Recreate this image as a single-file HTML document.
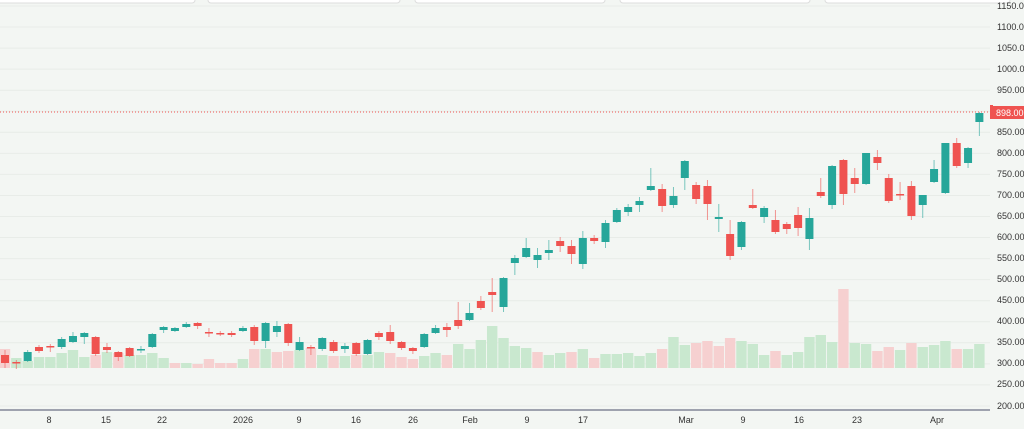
<!DOCTYPE html>
<html><head><meta charset="utf-8"><style>
html,body{margin:0;padding:0;background:#f3f6f3;overflow:hidden;width:1024px;height:429px}
svg{position:absolute;left:0;top:0}
text{font-family:"Liberation Sans",sans-serif;font-size:9px;fill:#333}
</style></head><body>
<svg id="s" width="1024" height="429" xmlns="http://www.w3.org/2000/svg">
<rect x="0" y="0" width="1024" height="429" fill="#f3f6f3"/>
<g id="grid"></g>
<g fill="#fff" stroke="#ddd" stroke-width="1">
<rect x="-5" y="-5" width="200" height="8" rx="3"/>
<rect x="208" y="-5" width="192" height="8" rx="3"/>
<rect x="415" y="-5" width="190" height="8" rx="3"/>
<rect x="620" y="-5" width="190" height="8" rx="3"/>
<rect x="825" y="-5" width="185" height="8" rx="3"/>
</g>
<g id="vol"></g>
<g id="cd"></g>
<line x1="0" y1="112" x2="990" y2="112" stroke="#ef5350" stroke-width="1" stroke-dasharray="1,2"/>
<line x1="0" y1="410" x2="990" y2="410" stroke="#4a4e69" stroke-width="1"/>
<g>
<text x="997" y="9">1150.00</text><text x="997" y="30">1100.00</text><text x="997" y="51">1050.00</text><text x="997" y="72">1000.00</text><text x="997" y="93">950.00</text><text x="997" y="135">850.00</text><text x="997" y="156">800.00</text><text x="997" y="177">750.00</text><text x="997" y="198">700.00</text><text x="997" y="219">650.00</text><text x="997" y="240">600.00</text><text x="997" y="261">550.00</text><text x="997" y="282">500.00</text><text x="997" y="303">450.00</text><text x="997" y="324">400.00</text><text x="997" y="345">350.00</text><text x="997" y="366">300.00</text><text x="997" y="387">250.00</text><text x="997" y="409">200.00</text>
</g>
<path d="M990 105 L993 105 L993 108 L1024 108 L1024 119 L990 119 Z" fill="#ef5350"/>
<rect x="990" y="106" width="34" height="13" fill="#ef5350"/>
<text x="996" y="116" style="fill:#fff">898.00</text>
<g text-anchor="middle">
<text x="49" y="423">8</text><text x="106" y="423">15</text><text x="162" y="423">22</text><text x="243" y="423">2026</text><text x="299" y="423">9</text><text x="356" y="423">16</text><text x="413" y="423">26</text><text x="470" y="423">Feb</text><text x="527" y="423">9</text><text x="583" y="423">17</text><text x="686" y="423">Mar</text><text x="743" y="423">9</text><text x="799" y="423">16</text><text x="857" y="423">23</text><text x="937" y="423">Apr</text>
</g>
</svg>
<script>
var NS="http://www.w3.org/2000/svg";
function el(p,t,a){var e=document.createElementNS(NS,t);for(var k in a)e.setAttribute(k,a[k]);p.appendChild(e);return e;}
var g=document.getElementById('grid');
for(var i=0;i<20;i++){var y=6+i*21.05;el(g,'line',{x1:0,x2:990,y1:y,y2:y,stroke:'#e8ece8','stroke-width':1});}
// [color, top, bottom, wickTop, wickBot]
var C=[
['r',355,363,350,368],['r',362,363,360,369],['g',352,361,350,362],['r',347,351,345,353],['r',346,347,344,352],['g',339,347,337,349],['g',336,342,332,343],['g',333,337,332,344],['r',337,354,336,356],['r',347,350,343,353],
['r',352,357,351,361],['r',348,356,347,357],['g',349,350,346,353],['g',334,347,333,348],['g',327,330,326,333],['g',328,331,327,332],['g',324,327,322,328],['r',323,326,322,329],['r',332,333,328,337],['r',333,334,331,336],
['r',333,335,331,337],['g',328,331,326,332],['r',327,341,325,345],['g',323,341,322,348],['g',326,332,321,337],['r',324,343,323,346],['g',342,350,337,351],['r',347,348,345,355],['g',338,349,337,351],['r',342,351,340,353],
['g',346,349,343,353],['r',343,354,342,356],['g',340,354,339,355],['r',333,337,331,340],['r',332,341,325,344],['r',342,348,341,350],['r',348,351,347,354],['g',334,347,333,348],['g',328,333,325,334],['r',327,330,323,337],
['r',320,326,302,329],['g',313,320,303,321],['r',301,308,296,310],['r',292,295,278,312],['g',278,307,277,312],['g',258,263,255,275],['g',248,257,238,258],['g',255,260,248,268],['g',250,253,240,260],['r',241,246,237,252],
['r',246,254,240,264],['g',238,264,231,269],['r',238,241,235,244],['g',223,242,220,248],['g',210,222,208,223],['g',207,212,204,216],['g',201,205,197,212],['g',186,190,168,191],['r',189,206,184,212],['g',196,205,187,208],
['g',161,178,160,190],['r',185,199,182,204],['r',186,204,180,220],['g',217,219,204,232],['r',234,256,220,260],['g',222,247,221,250],['r',205,208,189,209],['g',208,217,206,223],['r',220,232,210,234],['r',224,229,222,234],
['r',215,228,207,236],['g',218,239,208,250],['r',192,196,178,198],['g',166,205,165,209],['r',160,194,159,205],['r',178,184,168,193],['g',153,184,153,185],['r',157,163,150,170],['r',178,201,174,203],['r',194,195,182,200],
['r',186,216,181,220],['g',195,205,195,218],['g',169,182,160,183],['g',143,193,143,194],['r',143,166,138,168],['g',148,163,147,168],['g',113,122,112,136]];
var V=[['r',349],['g',358],['g',361],['g',357],['g',357],['g',353],['g',350],['g',357],['r',355],['g',352],
['r',353],['g',355],['g',355],['g',353],['g',358],['r',363],['g',363],['r',364],['r',359],['r',363],
['r',363],['g',359],['r',349],['g',349],['r',352],['r',351],['g',350],['r',348],['g',355],['r',356],
['g',356],['r',355],['g',355],['g',352],['r',353],['r',357],['r',359],['g',356],['g',353],['r',355],
['g',344],['g',349],['g',340],['g',326],['g',338],['g',346],['g',348],['r',352],['g',355],['g',353],
['r',352],['g',349],['r',358],['g',354],['g',354],['g',353],['g',356],['g',353],['r',349],['g',337],
['g',345],['r',343],['r',341],['r',346],['r',338],['g',341],['g',344],['g',355],['r',351],['g',355],
['g',352],['g',337],['g',335],['g',342],['r',289],['g',343],['g',344],['r',351],['r',347],['g',350],
['r',343],['g',347],['g',345],['g',341],['r',349],['g',349],['g',344]];
var vg=document.getElementById('vol'),cg=document.getElementById('cd');
for(var i=0;i<C.length;i++){
 var x=5+i*11.33;
 var v=V[i];
 el(vg,'rect',{x:x-5.2,y:v[1],width:10.4,height:368-v[1],fill:v[0]=='g'?'#c9e8cf':'#f6d0d0'});
 var c=C[i],col=c[0]=='g'?'#26a69a':'#ef5350';
 el(cg,'line',{x1:x,x2:x,y1:c[3],y2:c[4],stroke:col,'stroke-width':1,opacity:0.6});
 el(cg,'rect',{x:x-4,y:c[1],width:8,height:Math.max(1.5,c[2]-c[1]),fill:col});
}
</script>
</body></html>
